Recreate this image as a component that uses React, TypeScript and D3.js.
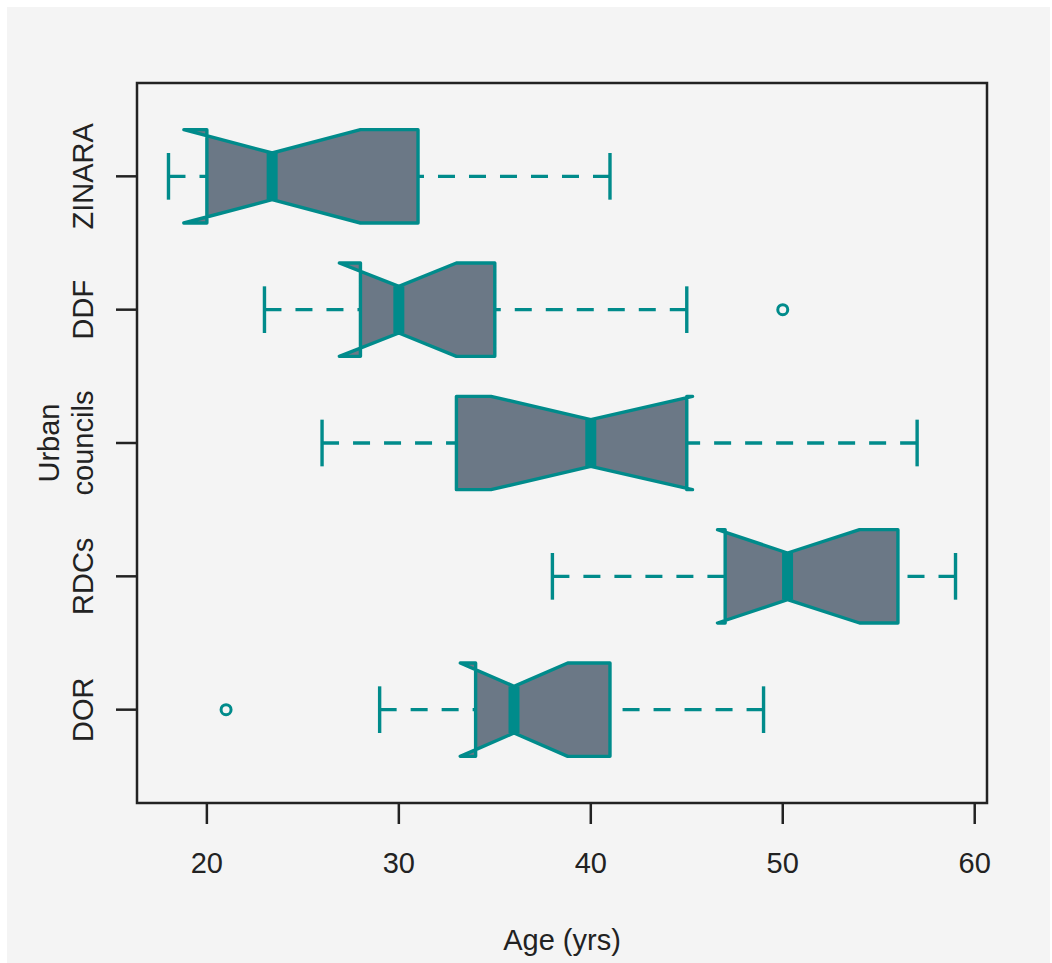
import React from 'react';
import * as d3 from 'd3';

const categories = ["DOR", "RDCs", "Urban councils", "DDF", "ZINARA"];
const whiskerLo = [29, 38, 26, 23, 18];
const q1 = [34, 47, 33, 28, 20];
const medians = [36, 50.25, 40, 30, 23.4];
const q3 = [41, 56, 45, 35, 31];
const whiskerHi = [49, 59, 57, 45, 41];
const notchLo = [33.2, 46.6, 34.8, 26.9, 18.8];
const notchHi = [38.8, 54, 45.3, 33, 28];
const outliers = [[21], [], [], [50], []];
const xTicks = [20, 30, 40, 50, 60];

const W = 1052, H = 963;
const left = 137, right = 987, top = 83, bottom = 803;
const teal = "#008b8b";
const fill = "#6b7886";
const font = "'Liberation Sans', Arial, sans-serif";

export default function App() {
  // R style 4% padding around the data range
  const lo = 18, hi = 59, pad = (hi - lo) * 0.04;
  const x = d3.scaleLinear().domain([lo - pad, hi + pad]).range([left, right]);
  const y = d3.scaleLinear().domain([0.3, 5.7]).range([bottom, top]);
  const half = y(0.3) - y(0.65); // box half-width (boxwex 0.7)
  const lw = 3.4;

  const boxes = categories.map((c, i) => {
    const cy = y(i + 1);
    const pts: [number, number][] = [
      [x(q1[i]), cy - half], [x(notchLo[i]), cy - half], [x(medians[i]), cy - half / 2],
      [x(notchHi[i]), cy - half], [x(q3[i]), cy - half], [x(q3[i]), cy + half],
      [x(notchHi[i]), cy + half], [x(medians[i]), cy + half / 2], [x(notchLo[i]), cy + half],
      [x(q1[i]), cy + half],
    ];
    const path = d3.line()(pts) + "Z";
    return (
      <g key={c}>
        <line x1={x(whiskerLo[i])} x2={x(q1[i])} y1={cy} y2={cy} stroke={teal} strokeWidth={lw} strokeDasharray="17,14" />
        <line x1={x(whiskerHi[i])} x2={x(q3[i])} y1={cy} y2={cy} stroke={teal} strokeWidth={lw} strokeDasharray="17,14" />
        <line x1={x(whiskerLo[i])} x2={x(whiskerLo[i])} y1={cy - half / 2} y2={cy + half / 2} stroke={teal} strokeWidth={lw} />
        <line x1={x(whiskerHi[i])} x2={x(whiskerHi[i])} y1={cy - half / 2} y2={cy + half / 2} stroke={teal} strokeWidth={lw} />
        <path d={path} fill={fill} stroke={teal} strokeWidth={lw} strokeLinejoin="round" />
        <line x1={x(medians[i])} x2={x(medians[i])} y1={cy - half / 2} y2={cy + half / 2} stroke={teal} strokeWidth={11} />
        {outliers[i].map((o, j) => (
          <circle key={j} cx={x(o)} cy={cy} r={5} fill="none" stroke={teal} strokeWidth={3} />
        ))}
      </g>
    );
  });

  return (
    <svg width={W} height={H} style={{ position: 'absolute', left: 0, top: 0 }} fontFamily={font}>
      <rect x={0} y={0} width={W} height={H} fill="#ffffff" />
      <rect x={7} y={7} width={W - 9} height={H - 7} fill="#f4f4f4" />
      {boxes}
      <rect x={left} y={top} width={right - left} height={bottom - top} fill="none" stroke="#222" strokeWidth={2.5} />
      {xTicks.map(t => (
        <g key={t}>
          <line x1={x(t)} x2={x(t)} y1={bottom} y2={bottom + 21} stroke="#222" strokeWidth={2.5} />
          <text x={x(t)} y={873} textAnchor="middle" fontSize={29} fill="#222">{t}</text>
        </g>
      ))}
      {categories.map((c, i) => {
        const cy = y(i + 1);
        const lines = c === "Urban councils" ? ["Urban", "councils"] : [c];
        return (
          <g key={c}>
            <line x1={left - 21} x2={left} y1={cy} y2={cy} stroke="#222" strokeWidth={2.5} />
            {lines.map((l, k) => (
              <text key={l} transform={`translate(${93 - (lines.length - 1 - k) * 34},${cy}) rotate(-90)`}
                textAnchor="middle" fontSize={29} fill="#222">{l}</text>
            ))}
          </g>
        );
      })}
      <text x={(left + right) / 2} y={950} textAnchor="middle" fontSize={29} fill="#222">Age (yrs)</text>
    </svg>
  );
}
